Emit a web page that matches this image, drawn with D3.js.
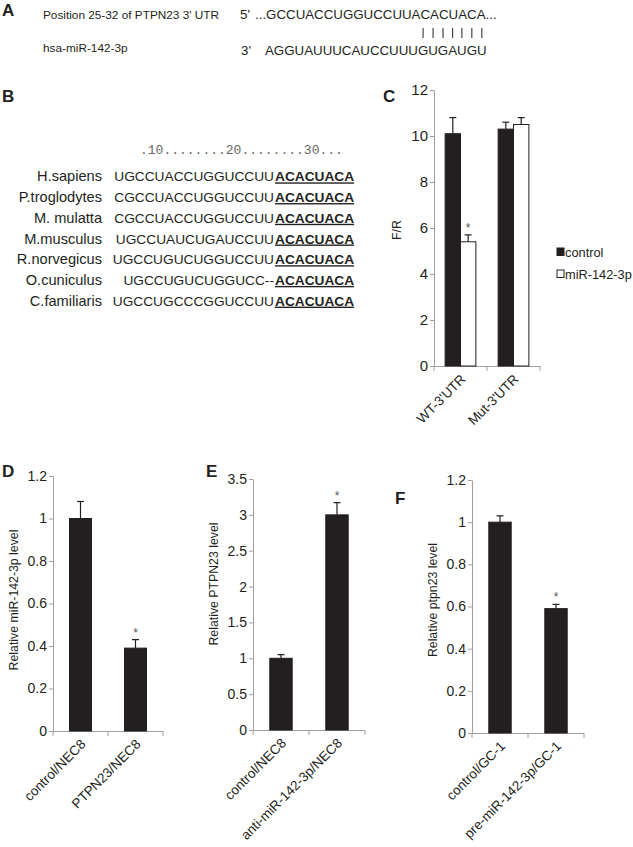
<!DOCTYPE html>
<html>
<head>
<meta charset="utf-8">
<script src="https://cdn.jsdelivr.net/npm/d3@7"></script>
<style>
  body { margin: 0; background: #fff; }
  text { font-family: "Liberation Sans", Arial, sans-serif; fill: #231f20; }
  .panel-letter { font-weight: bold; font-size: 17px; }
  .axis-line { stroke: #a0a0a0; stroke-width: 1; fill: none; }
  .bar { stroke: #231f20; stroke-width: 1; }
  .err { stroke: #231f20; stroke-width: 1.2; }
</style>
</head>
<body>
<div id="wrapper"></div>
<script>
// ---- panel A: target site ----
const targetLabel = "Position 25-32 of PTPN23 3' UTR"
const targetSeq = "...GCCUACCUGGUCCUUACACUACA..."
const mirLabel = "hsa-miR-142-3p"
const mirSeq = "AGGUAUUUCAUCCUUUGUGAUGU"
const seedPairCount = 7

// ---- panel B: conservation ----
const rulerText = ".10........20........30..."
const speciesNames = ["H.sapiens", "P.troglodytes", "M. mulatta", "M.musculus", "R.norvegicus", "O.cuniculus", "C.familiaris"]
const speciesSeqs = ["UGCCUACCUGGUCCUU", "CGCCUACCUGGUCCUU", "CGCCUACCUGGUCCUU", "UGCCUAUCUGAUCCUU", "UGCCUGUCUGGUCCUU", "UGCCUGUCUGGUCC--", "UGCCUGCCCGGUCCUU"]
const seedSeq = "ACACUACA"

// ---- panel C: luciferase ----
const cGroups = ["WT-3'UTR", "Mut-3'UTR"]
const cSeries = ["control", "miR-142-3p"]
const cControl = [10.1, 10.3]
const cControlErr = [0.7, 0.3]
const cMir = [5.4, 10.5]
const cMirErr = [0.3, 0.3]
const cStar = [true, false]
const cTicks = [0, 2, 4, 6, 8, 10, 12]

// ---- panel D ----
const dCategories = ["control/NEC8", "PTPN23/NEC8"]
const dValues = [1.0, 0.39]
const dErrors = [0.08, 0.04]
const dStar = [false, true]
const dTicks = [0, 0.2, 0.4, 0.6, 0.8, 1, 1.2]

// ---- panel E ----
const eCategories = ["control/NEC8", "anti-miR-142-3p/NEC8"]
const eValues = [1.0, 3.0]
const eErrors = [0.05, 0.17]
const eStar = [false, true]
const eTicks = [0, 0.5, 1, 1.5, 2, 2.5, 3, 3.5]

// ---- panel F ----
const fCategories = ["control/GC-1", "pre-miR-142-3p/GC-1"]
const fValues = [1.0, 0.59]
const fErrors = [0.03, 0.02]
const fStar = [false, true]
const fTicks = [0, 0.2, 0.4, 0.6, 0.8, 1, 1.2]

const width = 633
const height = 847

const svg = d3.select("#wrapper")
  .append("svg")
  .attr("width", width)
  .attr("height", height)

svg.append("rect").attr("width", width).attr("height", height).attr("fill", "#fff")

const letter = (x, y, t) =>
  svg.append("text").attr("class", "panel-letter").attr("x", x).attr("y", y).text(t)

// ---------- A ----------
letter(2, 15.5, "A")
svg.append("text").attr("x", 43).attr("y", 19).style("font-size", "11.8px").text(targetLabel)
svg.append("text").attr("x", 43).attr("y", 52).style("font-size", "11.8px").text(mirLabel)

const seqFont = "13.3px"
svg.append("text").attr("x", 240).attr("y", 19).style("font-size", seqFont).text("5'")
svg.append("text").attr("x", 255).attr("y", 19).style("font-size", seqFont).text(targetSeq)
svg.append("text").attr("x", 241).attr("y", 55).style("font-size", seqFont).text("3'")
const mirText = svg.append("text").attr("x", 265).attr("y", 55).style("font-size", seqFont).text(mirSeq)

// pairing bars over the last seed characters of the miRNA
const mirNode = mirText.node()
const charMid = (i) => (mirNode.getStartPositionOfChar(i).x + mirNode.getEndPositionOfChar(i).x) / 2
const pairIdx = d3.range(mirSeq.length - seedPairCount, mirSeq.length)
svg.append("g")
  .selectAll("line")
  .data(pairIdx)
  .join("line")
  .attr("x1", charMid)
  .attr("x2", charMid)
  .attr("y1", 28)
  .attr("y2", 38)
  .attr("stroke", "#231f20")
  .attr("stroke-width", 1)

// ---------- B ----------
letter(2, 101.5, "B")
svg.append("text")
  .attr("x", 140)
  .attr("y", 154)
  .style("font-family", "'Liberation Mono', 'DejaVu Sans Mono', monospace")
  .style("font-size", "13px")
  .style("fill", "#666")
  .text(rulerText)

const rowY = d3.scaleBand().domain(speciesNames).range([166, 311])
const seedX = 275
const rows = svg.append("g")
  .selectAll("g")
  .data(speciesNames)
  .join("g")
  .attr("transform", (d) => `translate(0, ${rowY(d) + rowY.bandwidth() / 2 + 5})`)

rows.append("text")
  .attr("x", 102)
  .attr("text-anchor", "end")
  .style("font-size", "14.6px")
  .text((d) => d)
rows.append("text")
  .attr("x", seedX - 1)
  .attr("text-anchor", "end")
  .style("font-size", "13.7px")
  .text((d, i) => speciesSeqs[i])
rows.append("text")
  .attr("x", seedX)
  .style("font-size", "13.7px")
  .style("font-weight", "bold")
  .style("text-decoration", "underline")
  .text(seedSeq)

// ---------- generic bar panel ----------
const drawAxes = (g, dims, ticks, x, y, categories, yLabel, yLabelPos, tickFont) => {
  // y axis
  const yAxis = d3.axisLeft(y).tickValues(ticks).tickSize(4).tickSizeOuter(0).tickFormat((d) => d)
  const ya = g.append("g").attr("transform", `translate(${dims.x0}, 0)`).call(yAxis)
  ya.select(".domain").attr("stroke", "#a0a0a0")
  ya.selectAll(".tick line").attr("stroke", "#a0a0a0")
  ya.selectAll(".tick text")
    .attr("x", -6)
    .style("font-family", "'Liberation Sans', Arial, sans-serif")
    .style("font-size", tickFont)
    .attr("fill", "#231f20")

  // x axis with boundary ticks
  g.append("line").attr("class", "axis-line")
    .attr("x1", dims.x0).attr("x2", dims.x1)
    .attr("y1", dims.y0 + 0.5).attr("y2", dims.y0 + 0.5)
  const bounds = d3.range(categories.length + 1).map((i) => dims.x0 + i * x.step())
  g.append("g").selectAll("line").data(bounds).join("line")
    .attr("class", "axis-line")
    .attr("x1", (d) => d).attr("x2", (d) => d)
    .attr("y1", dims.y0).attr("y2", dims.y0 + 5)

  g.append("g").selectAll("text").data(categories).join("text")
    .attr("text-anchor", "end")
    .attr("transform", (d) => `translate(${x(d) + x.bandwidth() / 2 + 6}, ${dims.y0 + 14}) rotate(-45)`)
    .style("font-size", "13.5px")
    .text((d) => d)

  g.append("text")
    .attr("text-anchor", "middle")
    .attr("transform", `translate(${yLabelPos[0] + 4.5}, ${yLabelPos[1]}) rotate(-90)`)
    .style("font-size", "12.3px")
    .text(yLabel)
}

const drawErrorAndStar = (g, cx, top, errTop, star) => {
  g.append("line").attr("class", "err").attr("x1", cx).attr("x2", cx).attr("y1", top).attr("y2", errTop)
  g.append("line").attr("class", "err").attr("x1", cx - 3.5).attr("x2", cx + 3.5).attr("y1", errTop).attr("y2", errTop)
  if (star) {
    g.append("text")
      .attr("x", cx)
      .attr("y", errTop - 3)
      .attr("text-anchor", "middle")
      .style("font-size", "12px")
      .style("fill", "#555")
      .text("*")
  }
}

const drawSimplePanel = (dims, categories, values, errors, stars, ticks, yLabel, yLabelPos) => {
  const g = svg.append("g")
  const x = d3.scaleBand().domain(categories).range([dims.x0, dims.x1]).paddingInner(0.6).paddingOuter(0.3)
  const y = d3.scaleLinear().domain([0, d3.max(ticks)]).range([dims.y0, dims.y1])

  drawAxes(g, dims, ticks, x, y, categories, yLabel, yLabelPos, "14px")

  g.append("g").selectAll("rect").data(categories).join("rect")
    .attr("class", "bar")
    .attr("x", (d) => x(d))
    .attr("width", x.bandwidth())
    .attr("y", (d, i) => y(values[i]))
    .attr("height", (d, i) => dims.y0 - y(values[i]))
    .attr("fill", "#231f20")

  categories.forEach((c, i) => {
    drawErrorAndStar(g, x(c) + x.bandwidth() / 2, y(values[i]), y(values[i] + errors[i]), stars[i])
  })
}

// ---------- C ----------
letter(383, 101.5, "C")
{
  const dims = { x0: 434, x1: 540, y0: 366, y1: 90 }
  const g = svg.append("g")
  const x = d3.scaleBand().domain(cGroups).range([dims.x0, dims.x1]).paddingInner(0.42).paddingOuter(0.21)
  const xs = d3.scaleBand().domain(cSeries).range([0, x.bandwidth()])
  const y = d3.scaleLinear().domain([0, d3.max(cTicks)]).range([dims.y0, dims.y1])
  const fills = d3.scaleOrdinal().domain(cSeries).range(["#231f20", "#ffffff"])

  drawAxes(g, dims, cTicks, x, y, cGroups, "F/R", [396, 230], "15px")

  const seriesVals = [cControl, cMir]
  const seriesErr = [cControlErr, cMirErr]
  cSeries.forEach((s, si) => {
    g.append("g").selectAll("rect").data(cGroups).join("rect")
      .attr("class", "bar")
      .attr("x", (d) => x(d) + xs(s))
      .attr("width", xs.bandwidth())
      .attr("y", (d, i) => y(seriesVals[si][i]))
      .attr("height", (d, i) => dims.y0 - y(seriesVals[si][i]))
      .attr("fill", fills(s))
    cGroups.forEach((grp, i) => {
      drawErrorAndStar(
        g,
        x(grp) + xs(s) + xs.bandwidth() / 2,
        y(seriesVals[si][i]),
        y(seriesVals[si][i] + seriesErr[si][i]),
        si === 1 && cStar[i]
      )
    })
  })

  const legend = g.append("g").selectAll("g").data(cSeries).join("g")
    .attr("transform", (d, i) => `translate(557, ${248 + i * 22})`)
  legend.append("rect")
    .attr("width", 7).attr("height", 7.5)
    .attr("fill", (d) => fills(d))
    .attr("stroke", "#231f20")
  legend.append("text")
    .attr("x", 8)
    .attr("y", 9)
    .style("font-size", "12.8px")
    .text((d) => d)
}

// ---------- D, E, F ----------
letter(2, 477, "D")
drawSimplePanel({ x0: 53, x1: 163, y0: 731, y1: 476 }, dCategories, dValues, dErrors, dStar, dTicks, "Relative miR-142-3p level", [13, 600])

letter(206, 477, "E")
drawSimplePanel({ x0: 253, x1: 365, y0: 730, y1: 479 }, eCategories, eValues, eErrors, eStar, eTicks, "Relative PTPN23 level", [213, 584])

letter(395, 504, "F")
drawSimplePanel({ x0: 472, x1: 584, y0: 733, y1: 480 }, fCategories, fValues, fErrors, fStar, fTicks, "Relative ptpn23 level", [432, 600])
</script>
</body>
</html>
